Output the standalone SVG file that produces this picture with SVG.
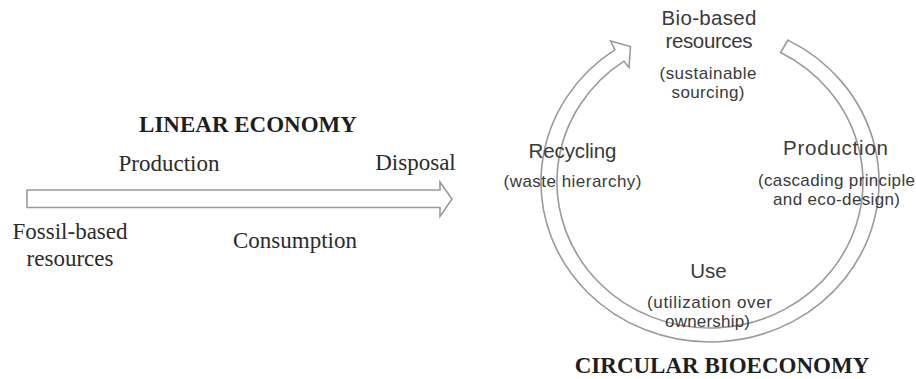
<svg xmlns="http://www.w3.org/2000/svg" width="916" height="379" viewBox="0 0 916 379">
  <style>
    .serif { font-family: "Liberation Serif", "Times New Roman", serif; font-size: 23px; fill: #2b2b2b; }
    .title { font-family: "Liberation Serif", "Times New Roman", serif; font-size: 23px; font-weight: bold; fill: #1e1e1e; }
    .lab { font-family: "Liberation Sans", Arial, sans-serif; font-size: 20.5px; fill: #3a3a3a; }
    .sub { font-family: "Liberation Sans", Arial, sans-serif; font-size: 17px; fill: #3a3a3a; }
    .arrow { fill: #ffffff; stroke: #9a9a9a; stroke-width: 1.6; stroke-linejoin: miter; }
  </style>
  <rect width="916" height="379" fill="#ffffff"/>

  <g id="connectors">
    <path id="linear-arrow" class="arrow" d="M27,190 H440 V182 L452,199 L440,216.5 V207.5 H27 Z"/>
    <path id="circular-arrow" class="arrow" d="M788,40.1 A169,160 0 1 1 615,49.7 L610.5,41 L630.5,46.5 L629,67.5 L624,61.2 A153,146 0 1 0 780.6,52.5 Z"/>
  </g>

  <g id="linear-title">
    <text class="title" x="248" y="132" text-anchor="middle">LINEAR ECONOMY</text>
  </g>
  <g id="linear-fossil">
    <text class="serif" x="70" y="239" text-anchor="middle">Fossil-based</text>
    <text class="serif" x="70" y="265.5" text-anchor="middle">resources</text>
  </g>
  <g id="linear-production">
    <text class="serif" x="169" y="171" text-anchor="middle">Production</text>
  </g>
  <g id="linear-consumption">
    <text class="serif" x="295" y="248" text-anchor="middle">Consumption</text>
  </g>
  <g id="linear-disposal">
    <text class="serif" x="415.5" y="170" text-anchor="middle">Disposal</text>
  </g>

  <g id="circ-biobased">
    <text class="lab" x="709" y="24.5" text-anchor="middle" textLength="95" lengthAdjust="spacing">Bio-based</text>
    <text class="lab" x="709" y="48" text-anchor="middle" textLength="87" lengthAdjust="spacing">resources</text>
    <text class="sub" x="708" y="79" text-anchor="middle" textLength="97" lengthAdjust="spacing">(sustainable</text>
    <text class="sub" x="708" y="98" text-anchor="middle" textLength="73" lengthAdjust="spacing">sourcing)</text>
  </g>
  <g id="circ-production">
    <text class="lab" x="835.5" y="155" text-anchor="middle" textLength="105" lengthAdjust="spacing">Production</text>
    <text class="sub" x="836.5" y="186" text-anchor="middle" textLength="157" lengthAdjust="spacing">(cascading principle</text>
    <text class="sub" x="836.5" y="205" text-anchor="middle" textLength="127" lengthAdjust="spacing">and eco-design)</text>
  </g>
  <g id="circ-use">
    <text class="lab" x="708.5" y="278" text-anchor="middle">Use</text>
    <text class="sub" x="709.5" y="307.5" text-anchor="middle" textLength="125" lengthAdjust="spacing">(utilization over</text>
    <text class="sub" x="707.5" y="326.5" text-anchor="middle" textLength="85" lengthAdjust="spacing">ownership)</text>
  </g>
  <g id="circ-recycling">
    <text class="lab" x="572.5" y="158" text-anchor="middle" textLength="88" lengthAdjust="spacing">Recycling</text>
    <text class="sub" x="572.5" y="187" text-anchor="middle" textLength="138" lengthAdjust="spacing">(waste hierarchy)</text>
  </g>
  <g id="circular-title">
    <text class="title" x="722" y="373" text-anchor="middle">CIRCULAR BIOECONOMY</text>
  </g>
</svg>
